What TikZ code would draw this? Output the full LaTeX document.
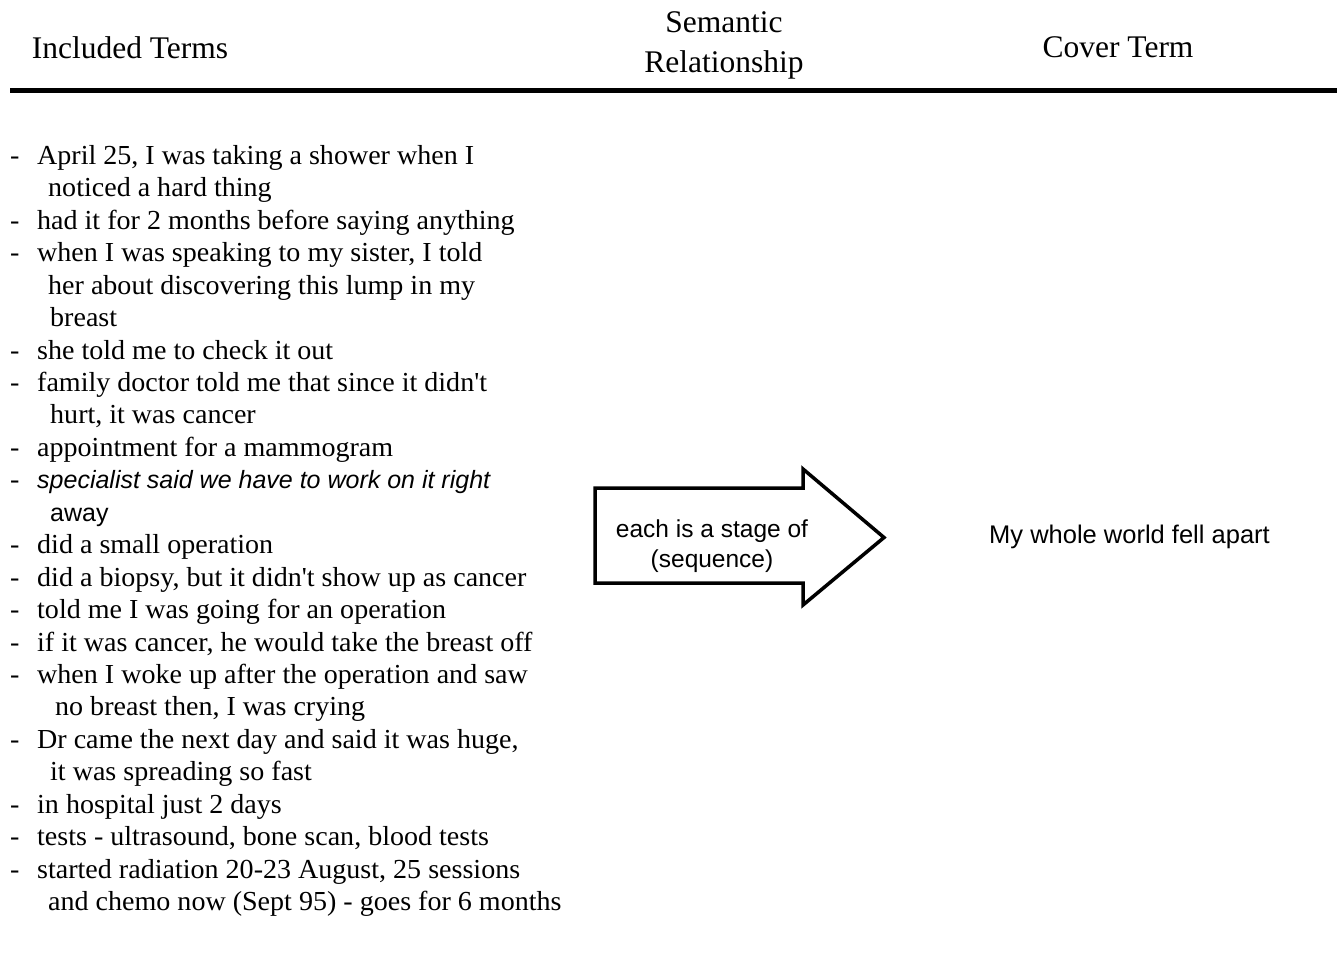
\documentclass[tikz,border=0pt]{standalone}
\usepackage{fontspec}
\setmainfont{Liberation Serif}
\newfontfamily\listfont[FakeStretch=1.02]{Liberation Serif}
\newfontfamily\labelfont{Liberation Sans}
\newcommand\itemdash{\makebox[27pt][l]{-}}
\newcommand\apos{\textquotesingle}
\begin{document}
\begin{tikzpicture}[x=1pt,y=-1pt,
  head/.style={anchor=base, inner sep=0, font=\fontsize{31.5}{38}\selectfont},
  item/.style={anchor=base west, inner sep=0, font=\fontsize{27.5}{32}\listfont},
  slant/.style={anchor=base west, inner sep=0, font=\fontsize{25}{32}\labelfont\itshape},
  plainsans/.style={anchor=base west, inner sep=0, font=\fontsize{25}{32}\labelfont},
  arrowtext/.style={anchor=base, inner sep=0, font=\fontsize{24.5}{30}\labelfont},
  cover/.style={anchor=base, inner sep=0, font=\fontsize{25.5}{30}\labelfont},
  rule/.style={line width=5pt},
  bigarrow/.style={line width=3.5pt, miter limit=10}
]
\useasboundingbox (0,0) rectangle (1337,974);

% column headings
\node[head] (h1) at (130,58.5) {Included Terms};
\node[head] (h2a) at (724,32.5) {Semantic};
\node[head] (h2b) at (724,72) {Relationship};
\node[head] (h3) at (1118,57) {Cover Term};

% heading rule
\coordinate (rl) at (10,90.5);
\coordinate (rr) at (1337,90.5);
\draw[rule] (rl) -- (rr);

% included terms
\node[item] (l1)  at (10,164.5) {\itemdash April 25, I was taking a shower when I};
\node[item] (l2)  at (48,196.9) {noticed a hard thing};
\node[item] (l3)  at (10,229.4) {\itemdash had it for 2 months before saying anything};
\node[item] (l4)  at (10,261.8) {\itemdash when I was speaking to my sister, I told};
\node[item] (l5)  at (48,294.2) {her about discovering this lump in my};
\node[item] (l6)  at (50,326.7) {breast};
\node[item] (l7)  at (10,359.1) {\itemdash she told me to check it out};
\node[item] (l8)  at (10,391.5) {\itemdash family doctor told me that since it didn\apos t};
\node[item] (l9)  at (50,423.9) {hurt, it was cancer};
\node[item] (l10) at (10,456.4) {\itemdash appointment for a mammogram};
\node[item] (l11d) at (10,488.8) {-};
\node[slant] (l11) at (37,488.8) {specialist said we have to work on it right};
\node[plainsans] (l12) at (50,521.2) {away};
\node[item] (l13) at (10,553.7) {\itemdash did a small operation};
\node[item] (l14) at (10,586.1) {\itemdash did a biopsy, but it didn\apos t show up as cancer};
\node[item] (l15) at (10,618.5) {\itemdash told me I was going for an operation};
\node[item] (l16) at (10,651.0) {\itemdash if it was cancer, he would take the breast off};
\node[item] (l17) at (10,683.4) {\itemdash when I woke up after the operation and saw};
\node[item] (l18) at (55,715.8) {no breast then, I was crying};
\node[item] (l19) at (10,748.2) {\itemdash Dr came the next day and said it was huge,};
\node[item] (l20) at (50,780.7) {it was spreading so fast};
\node[item] (l21) at (10,813.1) {\itemdash in hospital just 2 days};
\node[item] (l22) at (10,845.5) {\itemdash tests - ultrasound, bone scan, blood tests};
\node[item] (l23) at (10,878.0) {\itemdash started radiation 20-23 August, 25 sessions};
\node[item] (l24) at (48,910.4) {and chemo now (Sept 95) - goes for 6 months};

% block arrow for the relationship
\coordinate (a1) at (595,488);
\coordinate (a2) at (803,488);
\coordinate (a3) at (803,469);
\coordinate (a4) at (884,537.5);
\coordinate (a5) at (803,605);
\coordinate (a6) at (803,583);
\coordinate (a7) at (595,583);
\draw[bigarrow] (a1) -- (a2) -- (a3) -- (a4) -- (a5) -- (a6) -- (a7) -- cycle;
\node[arrowtext] (r1) at (712,537) {each is a stage of};
\node[arrowtext] (r2) at (712,567) {(sequence)};

% cover term
\node[cover] (c1) at (1129.5,543) {My whole world fell apart};
\end{tikzpicture}
\end{document}
